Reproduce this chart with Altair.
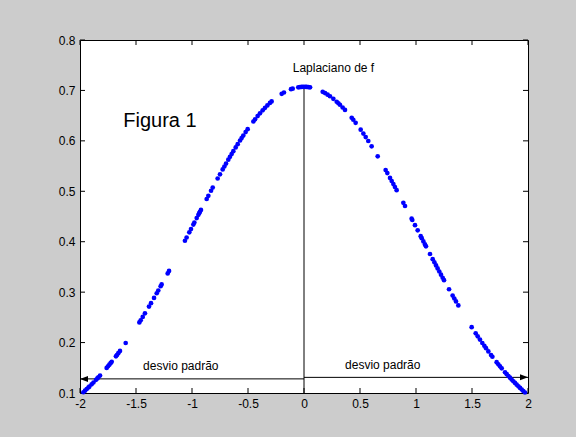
import altair as alt
import pandas as pd

# ---- data ----
x_left = [-1.970, -1.955, -1.940, -1.925, -1.917, -1.896, -1.880, -1.857, -1.845, -1.836,
          -1.821, -1.762, -1.750, -1.738, -1.727, -1.717, -1.679, -1.670, -1.658, -1.643,
          -1.592, -1.470, -1.458, -1.440, -1.420, -1.384, -1.366, -1.339, -1.315, -1.301,
          -1.280, -1.271, -1.217, -1.205, -1.063, -1.048, -1.024, -1.009, -0.988, -0.979,
          -0.958, -0.943, -0.935, -0.929, -0.920, -0.869, -0.854, -0.830, -0.815, -0.771,
          -0.750, -0.726, -0.711, -0.696, -0.676, -0.661, -0.646, -0.631, -0.610, -0.592,
          -0.571, -0.557, -0.542, -0.521, -0.503, -0.452, -0.437, -0.414, -0.393, -0.369,
          -0.348, -0.327, -0.304, -0.289, -0.199, -0.179, -0.116, -0.101, -0.051, -0.036,
          -0.021, -0.006]
y_left = [0.1015, 0.1046, 0.1077, 0.1109, 0.1126, 0.1172, 0.1208, 0.1261, 0.1289, 0.1310,
          0.1347, 0.1498, 0.1530, 0.1562, 0.1592, 0.1619, 0.1727, 0.1754, 0.1789, 0.1834,
          0.1991, 0.2400, 0.2443, 0.2508, 0.2580, 0.2714, 0.2782, 0.2885, 0.2978, 0.3033,
          0.3117, 0.3153, 0.3372, 0.3421, 0.4019, 0.4084, 0.4186, 0.4251, 0.4340, 0.4379,
          0.4469, 0.4533, 0.4567, 0.4593, 0.4631, 0.4847, 0.4910, 0.5011, 0.5073, 0.5253,
          0.5337, 0.5433, 0.5492, 0.5550, 0.5627, 0.5683, 0.5739, 0.5795, 0.5870, 0.5935,
          0.6007, 0.6055, 0.6105, 0.6174, 0.6231, 0.6384, 0.6427, 0.6491, 0.6546, 0.6606,
          0.6655, 0.6703, 0.6752, 0.6782, 0.6932, 0.6959, 0.7024, 0.7035, 0.7062, 0.7066,
          0.7069, 0.7071]
x_right = [0.010, 0.024, 0.040, 0.054, 0.167, 0.188, 0.211, 0.232, 0.262, 0.292,
           0.307, 0.321, 0.345, 0.366, 0.426, 0.440, 0.461, 0.506, 0.530, 0.551,
           0.574, 0.604, 0.658, 0.729, 0.744, 0.768, 0.783, 0.798, 0.812, 0.827,
           0.887, 0.902, 0.961, 0.967, 0.991, 1.015, 1.042, 1.051, 1.066, 1.080,
           1.089, 1.125, 1.149, 1.164, 1.179, 1.193, 1.208, 1.223, 1.238, 1.250,
           1.295, 1.327, 1.342, 1.357, 1.378, 1.497, 1.533, 1.551, 1.571, 1.592,
           1.610, 1.625, 1.646, 1.670, 1.682, 1.720, 1.735, 1.750, 1.765, 1.795,
           1.810, 1.825, 1.839, 1.854, 1.869, 1.884, 1.899, 1.914, 1.929, 1.944,
           1.958, 1.973]
y_right = [0.7071, 0.7069, 0.7065, 0.7061, 0.6973, 0.6947, 0.6916, 0.6884, 0.6833, 0.6776,
           0.6746, 0.6716, 0.6662, 0.6613, 0.6458, 0.6419, 0.6358, 0.6221, 0.6145, 0.6075,
           0.5997, 0.5892, 0.5694, 0.5421, 0.5361, 0.5265, 0.5204, 0.5143, 0.5085, 0.5023,
           0.4772, 0.4708, 0.4456, 0.4431, 0.4328, 0.4225, 0.4109, 0.4070, 0.4006, 0.3946,
           0.3908, 0.3756, 0.3654, 0.3592, 0.3529, 0.3471, 0.3409, 0.3347, 0.3286, 0.3237,
           0.3057, 0.2932, 0.2874, 0.2816, 0.2736, 0.2306, 0.2184, 0.2124, 0.2059, 0.1991,
           0.1935, 0.1888, 0.1825, 0.1754, 0.1719, 0.1611, 0.1570, 0.1529, 0.1489, 0.1412,
           0.1374, 0.1337, 0.1304, 0.1268, 0.1233, 0.1199, 0.1165, 0.1133, 0.1100, 0.1069,
           0.1040, 0.1010]

x_ticks = [-2, -1.5, -1, -0.5, 0, 0.5, 1, 1.5, 2]
y_ticks = [0.1, 0.2, 0.3, 0.4, 0.5, 0.6, 0.7, 0.8]

# centre line and the two "desvio padrão" arrows
center_x = [0]
center_y = [0.1]
center_y2 = [0.7071]
arrow_x = [-2, 0]
arrow_x2 = [0, 2]
arrow_y = [0.128, 0.131]

ann_text = ["Laplaciano de f", "Figura 1", "desvio padrão", "desvio padrão"]
ann_x = [0.263, -1.286, -1.100, 0.703]
ann_y = [0.7375, 0.627, 0.145, 0.148]
ann_size = [12, 20, 12, 12]

W, H = 448, 353
FONT = "Liberation Sans"

pts = pd.DataFrame({"x": x_left + x_right, "y": y_left + y_right})
xt = pd.DataFrame({"t": x_ticks})
yt = pd.DataFrame({"t": y_ticks})
cl = pd.DataFrame({"x": center_x, "y": center_y, "y2": center_y2})
ar = pd.DataFrame({"x": arrow_x, "x2": arrow_x2, "y": arrow_y})
an = pd.DataFrame({"text": ann_text, "x": ann_x, "y": ann_y, "fs": ann_size})

xs = alt.Scale(domain=[-2, 2], nice=False, zero=False)
ys = alt.Scale(domain=[0.1, 0.8], nice=False, zero=False)

x_axis = alt.Axis(values=x_ticks, ticks=False, domain=False, grid=False, title=None,
                  labelFontSize=12, labelFont=FONT, labelColor="black", labelPadding=5,
                  labelOverlap=False, labelFlush=False,
                  labelExpr="datum.value < 0 ? '-' + format(-datum.value, '~g') : format(datum.value, '~g')")
y_axis = alt.Axis(values=y_ticks, ticks=False, domain=False, grid=False, title=None,
                  labelFontSize=12, labelFont=FONT, labelColor="black", labelPadding=5,
                  labelOverlap=False, labelFlush=False, format=".1f")

points = alt.Chart(pts).mark_circle(color="#0000FF", size=22, opacity=1).encode(
    x=alt.X("x:Q", scale=xs, axis=x_axis),
    y=alt.Y("y:Q", scale=ys, axis=y_axis),
)

tick_b = alt.Chart(xt).mark_rule(color="black", strokeWidth=1).encode(
    x=alt.X("t:Q", scale=xs), y=alt.value(H), y2=alt.value(H - 5))
tick_t = alt.Chart(xt).mark_rule(color="black", strokeWidth=1).encode(
    x=alt.X("t:Q", scale=xs), y=alt.value(0), y2=alt.value(5))
tick_l = alt.Chart(yt).mark_rule(color="black", strokeWidth=1).encode(
    y=alt.Y("t:Q", scale=ys), x=alt.value(0), x2=alt.value(5))
tick_r = alt.Chart(yt).mark_rule(color="black", strokeWidth=1).encode(
    y=alt.Y("t:Q", scale=ys), x=alt.value(W), x2=alt.value(W - 5))

center = alt.Chart(cl).mark_rule(color="black", strokeWidth=1).encode(
    x=alt.X("x:Q", scale=xs), y=alt.Y("y:Q", scale=ys), y2="y2:Q")

arrows = alt.Chart(ar).mark_rule(color="black", strokeWidth=1).encode(
    x=alt.X("x:Q", scale=xs), x2="x2:Q", y=alt.Y("y:Q", scale=ys))

head_l = alt.Chart(ar.iloc[[0]]).mark_point(
    shape="M0,0L2,-0.75L2,0.75Z", filled=True, color="black", opacity=1, size=64
).encode(x=alt.X("x:Q", scale=xs), y=alt.Y("y:Q", scale=ys))
head_r = alt.Chart(ar.iloc[[1]]).mark_point(
    shape="M0,0L-2,-0.75L-2,0.75Z", filled=True, color="black", opacity=1, size=64
).encode(x=alt.X("x2:Q", scale=xs), y=alt.Y("y:Q", scale=ys))

texts = alt.Chart(an).mark_text(align="center", baseline="alphabetic", color="black", font=FONT).encode(
    x=alt.X("x:Q", scale=xs), y=alt.Y("y:Q", scale=ys), text="text:N",
    size=alt.Size("fs:Q", scale=None, legend=None))

chart = alt.layer(
    tick_b, tick_t, tick_l, tick_r, center, arrows, head_l, head_r, points, texts
).properties(
    width=W, height=H,
    autosize=alt.AutoSizeParams(type="none"),
    padding={"left": 80, "top": 40, "right": 48, "bottom": 44},
    background="#CCCCCC",
).configure_view(
    fill="white", stroke="black", strokeWidth=1
)

chart.save("out.html", embed_options={"renderer": "svg", "actions": False})
